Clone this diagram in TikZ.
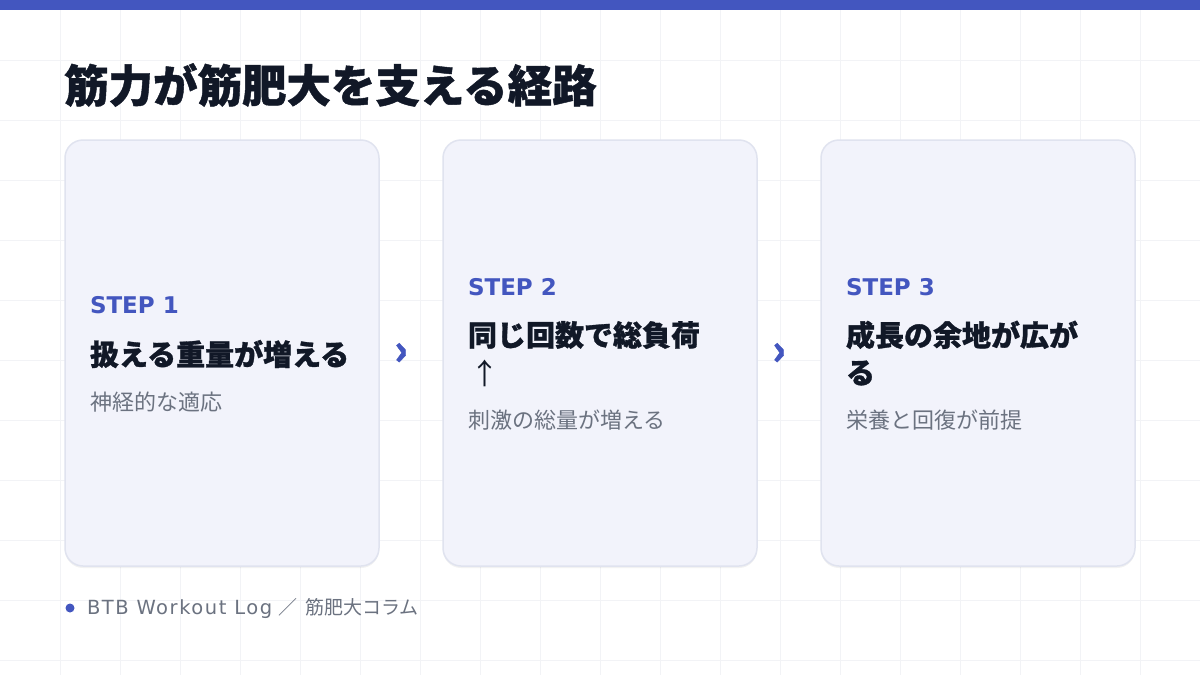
\documentclass[tikz,border=0pt]{standalone}
\usepackage{fontspec}
\setmainfont{Noto Sans CJK JP}
\newfontfamily\heavy{Noto Sans CJK JP}[BoldFeatures={FakeBold=1.0}]
\newfontfamily\latin{DejaVu Sans}
\newfontfamily\latinwide{DejaVu Sans}[LetterSpace=8]
\usetikzlibrary{shadows}
\definecolor{accent}{HTML}{4356BF}
\definecolor{ink}{HTML}{111827}
\definecolor{muted}{HTML}{6B7280}
\definecolor{cardfill}{HTML}{F2F3FB}
\definecolor{cardline}{HTML}{E0E3EF}
\definecolor{gridc}{HTML}{F2F3F6}
\begin{document}
\begin{tikzpicture}[x=1pt,y=-1pt,
  card/.style={draw=cardline, line width=1.5pt, fill=cardfill, rounded corners=18pt,
    minimum width=314pt, minimum height=426pt, inner sep=0pt,
    drop shadow={shadow xshift=0pt, shadow yshift=-2pt, opacity=0.05, fill=black}},
  txt/.style={anchor=west, inner sep=0pt, outer sep=0pt},
  steplbl/.style={txt, text=accent, font=\fontsize{23}{28}\latin\bfseries},
  head/.style={txt, text=ink, font=\fontsize{29}{35}\heavy\bfseries},
  headthin/.style={txt, text=ink, font=\fontsize{29}{35}\selectfont},
  sub/.style={txt, text=muted, font=\fontsize{22}{26}\selectfont},
  chev/.style={inner sep=0pt, text=accent, font=\fontsize{42}{42}\heavy\bfseries}
]
\useasboundingbox (0,0) rectangle (1200,675);
\fill[white] (0,0) rectangle (1200,675);
\foreach \x in {60,120,...,1140} \draw[gridc, line width=0.8pt] (\x,0) -- (\x,675);
\foreach \y in {60,120,...,660} \draw[gridc, line width=0.8pt] (0,\y) -- (1200,\y);
\fill[accent] (0,0) rectangle (1200,10);

\node[txt, text=ink, font=\fontsize{44.5}{50}\heavy\bfseries] (title) at (64,85) {筋力が筋肥大を支える経路};

\node[card] (c1) at (222,353) {};
\node[card] (c2) at (600,353) {};
\node[card] (c3) at (978,353) {};

% card 1
\node[steplbl] (s1) at (90,305) {STEP 1};
\node[head] (h1) at (90,354) {扱える重量が増える};
\node[sub] (d1) at (90,402) {神経的な適応};

% card 2
\node[steplbl] (s2) at (468,287) {STEP 2};
\node[head] (h2) at (468,335) {同じ回数で総負荷};
\node[headthin] (h2b) at (470,373) {↑};
\node[sub] (d2) at (468,420) {刺激の総量が増える};

% card 3
\node[steplbl] (s3) at (846,287) {STEP 3};
\node[head] (h3) at (846,335) {成長の余地が広が};
\node[head] (h3b) at (846,373) {る};
\node[sub] (d3) at (846,420) {栄養と回復が前提};

% chevrons
\node[chev] (a1) at (401,354) {›};
\node[chev] (a2) at (779,354) {›};

% footer
\fill[accent] (70,608) circle (4.5pt);
\node[txt, text=muted, font=\fontsize{19}{23}\selectfont] (foot) at (87,608) {{\latinwide\fontsize{19.5}{23}\selectfont BTB Workout Log}\hspace{6pt}／\hspace{8pt}筋肥大コラム};
\end{tikzpicture}
\end{document}
